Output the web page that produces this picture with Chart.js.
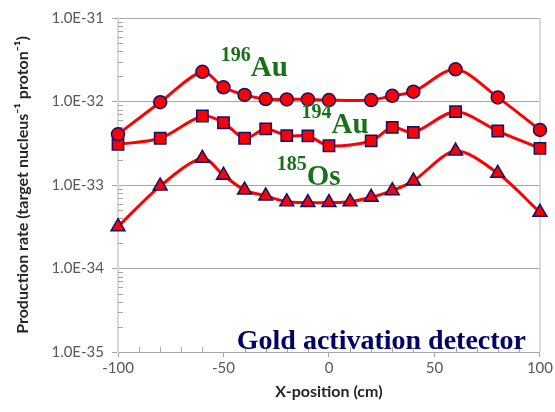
<!DOCTYPE html>
<html>
<head>
<meta charset="utf-8">
<script src="https://cdn.jsdelivr.net/npm/chart.js@4.4.1/dist/chart.umd.min.js"></script>
<style>
  html, body { margin:0; padding:0; background:#fff; }
  #wrap { width:555px; height:412px; position:relative; }
</style>
</head>
<body>
<div id="wrap"><canvas id="c" width="555" height="412"></canvas></div>
<script>
// ---- data ----
const xAu = [-100, -80, -60, -50, -40, -30, -20, -10, 0, 20, 30, 40, 60, 80, 100];
const au196 = [4.05e-33, 9.8e-33, 2.27e-32, 1.48e-32, 1.2e-32, 1.07e-32, 1.06e-32, 1.06e-32, 1.04e-32, 1.04e-32, 1.17e-32, 1.31e-32, 2.43e-32, 1.12e-32, 4.56e-33];
const au194 = [3.07e-33, 3.63e-33, 6.7e-33, 5.57e-33, 3.63e-33, 4.69e-33, 3.9e-33, 3.87e-33, 2.95e-33, 3.37e-33, 4.91e-33, 4.27e-33, 7.55e-33, 4.43e-33, 2.75e-33];
const xOs = [-100, -80, -60, -50, -40, -30, -20, -10, 0, 10, 20, 30, 40, 60, 80, 100];
const os185 = [3.17e-34, 9.7e-34, 2.09e-33, 1.31e-33, 8.7e-34, 7.4e-34, 6.3e-34, 6.16e-34, 6.16e-34, 6.3e-34, 7.13e-34, 8.55e-34, 1.12e-33, 2.55e-33, 1.38e-33, 4.71e-34];
const seriesNames = ['196Au', '194Au', '185Os'];
const yTickValues = [1e-35, 1e-34, 1e-33, 1e-32, 1e-31];
const yTickLabels = ['1.0E-35', '1.0E-34', '1.0E-33', '1.0E-32', '1.0E-31'];
const xTickValues = [-100, -50, 0, 50, 100];
const xTickLabels = ['-100', '-50', '0', '50', '100'];
const yTitle = 'Production rate (target nucleus\u207B\u00B9 proton\u207B\u00B9)';
const xTitle = 'X-position (cm)';
const isotopeLabels = [
  { sup: '196', main: 'Au', x: -51.3, y: 2.02e-32 },
  { sup: '194', main: 'Au', x: -13.0, y: 4.2e-33 },
  { sup: '185', main: 'Os', x: -24.8, y: 1.0e-33 }
];
const boxLabel = { text: 'Gold activation detector', x: 93.4, y: 1.09e-35 };

// ---- chart ----
const toPts = (xs, ys) => xs.map((x, i) => ({ x: x, y: ys[i] }));
const base = {
  showLine: true, borderColor: '#ff0000', borderWidth: 3, tension: 0.3, clip: false,
  backgroundColor: '#ff0000', pointBackgroundColor: '#ff0000',
  pointBorderColor: '#10106e', pointBorderWidth: 1.5
};

const extras = {
  id: 'extras',
  beforeDatasetsDraw(chart) {
    const ctx = chart.ctx, xs = chart.scales.x, ys = chart.scales.y, a = chart.chartArea;
    ctx.save();
    ctx.strokeStyle = '#d9d9d9'; ctx.lineWidth = 2;
    ctx.beginPath(); ctx.moveTo(a.right, a.top); ctx.lineTo(a.right, a.bottom); ctx.stroke();
    ctx.strokeStyle = '#a6a6a6'; ctx.lineWidth = 1;
    for (let e = -35; e < -31; e++) {
      for (let k = 2; k <= 9; k++) {
        const py = Math.round(ys.getPixelForValue(k * Math.pow(10, e))) + 0.5;
        ctx.beginPath(); ctx.moveTo(a.left, py); ctx.lineTo(a.left + 5, py); ctx.stroke();
      }
    }
    for (let v = -90; v < 100; v += 10) {
      if (v % 50 === 0) continue;
      const px = Math.round(xs.getPixelForValue(v)) + 0.5;
      ctx.beginPath(); ctx.moveTo(px, a.bottom); ctx.lineTo(px, a.bottom - 5); ctx.stroke();
    }
    ctx.restore();
  },
  afterDraw(chart) {
    const ctx = chart.ctx, xs = chart.scales.x, ys = chart.scales.y;
    ctx.save();
    ctx.textBaseline = 'alphabetic'; ctx.textAlign = 'left';
    ctx.fillStyle = '#177217';
    isotopeLabels.forEach(l => {
      const px = xs.getPixelForValue(l.x), py = ys.getPixelForValue(l.y);
      ctx.font = 'bold 20px "Liberation Serif", "Times New Roman", serif';
      const w = ctx.measureText(l.sup).width;
      ctx.fillText(l.sup, px, py - 15);
      ctx.font = 'bold 29px "Liberation Serif", "Times New Roman", serif';
      ctx.fillText(l.main, px + w, py);
    });
    ctx.fillStyle = '#000066';
    ctx.textAlign = 'right';
    ctx.font = 'bold 28px "Liberation Serif", "Times New Roman", serif';
    ctx.fillText(boxLabel.text, xs.getPixelForValue(boxLabel.x), ys.getPixelForValue(boxLabel.y));
    ctx.restore();
  }
};

new Chart(document.getElementById('c'), {
  type: 'scatter',
  data: {
    datasets: [
      Object.assign({ label: seriesNames[0], data: toPts(xAu, au196), pointStyle: 'circle', pointRadius: 6.5 }, base),
      Object.assign({ label: seriesNames[1], data: toPts(xAu, au194), pointStyle: 'rect', pointRadius: 8 }, base),
      Object.assign({ label: seriesNames[2], data: toPts(xOs, os185), pointStyle: 'triangle', pointRadius: 8 }, base)
    ]
  },
  options: {
    responsive: false, animation: false, devicePixelRatio: 1,
    layout: { padding: { top: 18, right: 14, left: 0, bottom: 0 } },
    plugins: { legend: { display: false }, tooltip: { enabled: false } },
    scales: {
      x: {
        type: 'linear', min: -100, max: 100,
        afterBuildTicks: s => { s.ticks = xTickValues.map(v => ({ value: v })); },
        afterFit: s => { s.height = 60; },
        ticks: {
          callback: (v) => xTickLabels[xTickValues.indexOf(v)],
          color: '#595959', font: { family: 'Lato', size: 15 }, padding: 2, maxRotation: 0
        },
        grid: { drawOnChartArea: false, color: '#a6a6a6', tickLength: 5 },
        border: { color: '#a6a6a6', width: 1 },
        title: { display: true, text: xTitle, color: '#262626', font: { family: 'Lato', size: 16, weight: 'bold' }, padding: { top: 2, bottom: 11 } }
      },
      y: {
        type: 'logarithmic', min: 1e-35, max: 1e-31,
        afterBuildTicks: s => { s.ticks = yTickValues.map(v => ({ value: v })); },
        afterFit: s => { s.width = 118; },
        ticks: {
          callback: (v) => { const i = yTickValues.findIndex(t => Math.abs(Math.log10(t) - Math.log10(v)) < 1e-6); return i >= 0 ? yTickLabels[i] : ''; },
          color: '#595959', font: { family: 'Lato', size: 15 }, padding: 8
        },
        grid: { color: '#a6a6a6', tickLength: 6 },
        border: { color: '#d9d9d9', width: 2 },
        title: { display: true, text: yTitle, color: '#262626', font: { family: 'Lato', size: 16, weight: 'bold' }, padding: { top: 13, bottom: 0 } }
      }
    }
  },
  plugins: [extras]
});
</script>
</body>
</html>
